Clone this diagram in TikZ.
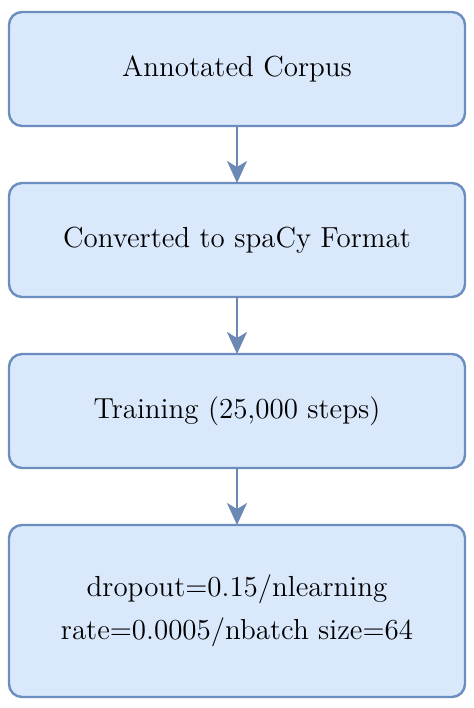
\documentclass[tikz,border=0pt]{standalone}
\usepackage{tikz}
\usetikzlibrary{positioning}
\usetikzlibrary{arrows.meta}
\definecolor{boxfill}{RGB}{218,232,252}
\definecolor{boxline}{RGB}{108,142,191}
\definecolor{arrowline}{RGB}{108,136,180}
\newcommand{\widthbox}{228pt}
\newcommand{\heightbox}{57pt}
\newcommand{\heightlastbox}{86pt}
\tikzset{
    common/.style={draw=boxline, fill=boxfill, line width=1.2pt, rounded corners=6.5pt, outer sep=0pt, align=center, font=\fontsize{14.5}{21.5}\selectfont},
    stage/.style={common, rectangle, minimum width=\widthbox, minimum height=\heightbox},
    laststage/.style={stage, minimum height=\heightlastbox},
    flow/.style={-{Stealth[length=11pt, width=10pt, inset=3pt]}, arrowline, line width=1pt}
}

\begin{document}
\begin{tikzpicture}[node distance=28.5pt]
    \useasboundingbox (0,0) rectangle (237pt,-354pt);

    \node[stage, anchor=north] (corpus) at (118.5pt,-6pt) {Annotated Corpus};
    \node[stage, below=of corpus] (spacy) {Converted to spaCy Format};
    \node[stage, below=of spacy] (training) {Training (25,000 steps)};
    \node[laststage, below=of training] (params) {dropout=0.15/nlearning\\ rate=0.0005/nbatch size=64};

    \draw[flow] (corpus) -- (spacy);
    \draw[flow] (spacy) -- (training);
    \draw[flow] (training) -- (params);
\end{tikzpicture}
\end{document}
